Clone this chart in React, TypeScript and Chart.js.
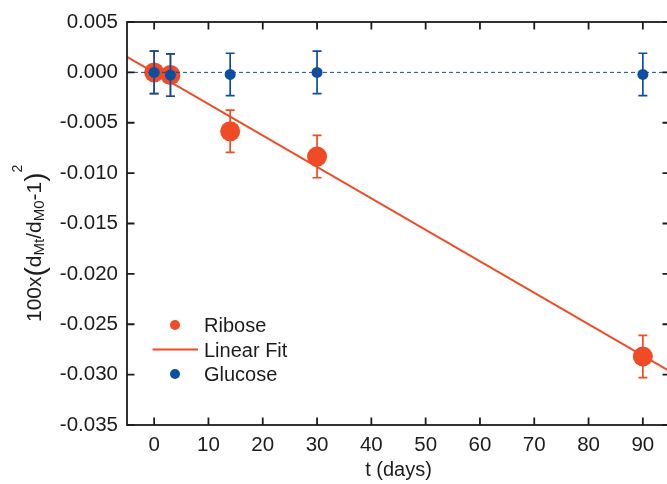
import React, { useEffect, useRef } from "react";
import { Chart, registerables } from "chart.js";

Chart.register(...registerables);

// ---------------- data ----------------
const days = [0, 3, 14, 30, 90];
const riboseValues = [0.0, -0.00027, -0.00585, -0.00836, -0.0282];
const riboseErrors = [0.0021, 0.0021, 0.0021, 0.0021, 0.0021];
const glucoseValues = [0.0, -0.00027, -0.0002, 0.0, -0.0002];
const glucoseErrors = [0.0021, 0.0021, 0.0021, 0.0021, 0.0021];
const fitDays = [-5, 95];
const fitValues = [0.00153, -0.02967];
const zeroDays = [-5, 95];
const zeroValues = [0, 0];
const xTickValues = [0, 10, 20, 30, 40, 50, 60, 70, 80, 90];
const yTickValues = [0.005, 0.0, -0.005, -0.01, -0.015, -0.02, -0.025, -0.03, -0.035];
const legendLabels = ["Ribose", "Linear Fit", "Glucose"];
const xTitle = "t (days)";

// ---------------- styles ----------------
const RIBOSE = "#ef4b24";
const GLUCOSE = "#0b4ea2";
const INK = "#1c1c1c";
const FONT = "'Liberation Sans', Arial, Helvetica, sans-serif";

const toPoints = (xs: number[], ys: number[]) => xs.map((x, i) => ({ x, y: ys[i] }));

const errorBarPlugin = {
  id: "errorBars",
  beforeDatasetDraw(chart: any, args: any) {
    const ds = chart.data.datasets[args.index];
    if (!ds.errorBars) return;
    const { ctx, scales } = chart;
    const xs = scales.x;
    const ys = scales.y;
    ctx.save();
    ctx.strokeStyle = ds.errorColor;
    ctx.lineWidth = 1.7;
    ds.data.forEach((p: any, i: number) => {
      const e = ds.errorBars[i];
      const px = xs.getPixelForValue(p.x);
      const top = ys.getPixelForValue(p.y + e);
      const bot = ys.getPixelForValue(p.y - e);
      ctx.beginPath();
      ctx.moveTo(px, top);
      ctx.lineTo(px, bot);
      ctx.moveTo(px - 4.5, top);
      ctx.lineTo(px + 4.5, top);
      ctx.moveTo(px - 4.5, bot);
      ctx.lineTo(px + 4.5, bot);
      ctx.stroke();
    });
    ctx.restore();
  },
};

const framePlugin = {
  id: "frameTicks",
  afterDraw(chart: any) {
    const { ctx, chartArea: a, scales } = chart;
    const tl = 7.5;
    ctx.save();
    ctx.strokeStyle = INK;
    ctx.lineWidth = 1.8;
    ctx.strokeRect(a.left, a.top, a.right - a.left, a.bottom - a.top);
    ctx.beginPath();
    xTickValues.forEach((v) => {
      const px = scales.x.getPixelForValue(v);
      ctx.moveTo(px, a.bottom);
      ctx.lineTo(px, a.bottom - tl);
      ctx.moveTo(px, a.top);
      ctx.lineTo(px, a.top + tl);
    });
    yTickValues.forEach((v) => {
      const py = scales.y.getPixelForValue(v);
      ctx.moveTo(a.left, py);
      ctx.lineTo(a.left + tl, py);
      ctx.moveTo(a.right, py);
      ctx.lineTo(a.right - tl, py);
    });
    ctx.stroke();

    // legend
    const lx = a.left + 48;
    const ly = a.top + 303;
    const gap = 24.5;
    ctx.fillStyle = RIBOSE;
    ctx.beginPath();
    ctx.arc(lx, ly, 5, 0, Math.PI * 2);
    ctx.fill();
    ctx.strokeStyle = RIBOSE;
    ctx.lineWidth = 2;
    ctx.beginPath();
    ctx.moveTo(lx - 22.5, ly + gap);
    ctx.lineTo(lx + 23, ly + gap);
    ctx.stroke();
    ctx.fillStyle = GLUCOSE;
    ctx.beginPath();
    ctx.arc(lx, ly + 2 * gap, 5, 0, Math.PI * 2);
    ctx.fill();
    ctx.fillStyle = INK;
    ctx.font = `20px ${FONT}`;
    ctx.textBaseline = "alphabetic";
    ctx.textAlign = "left";
    legendLabels.forEach((t, i) => {
      ctx.fillText(t, lx + 29, ly + i * gap + 7.2);
    });

    // y-axis title with sub/superscripts
    ctx.translate(41, 322);
    ctx.rotate(-Math.PI / 2);
    const parts: [string, number, number][] = [
      ["100x", 21, 0],
      ["(", 28, 2.5],
      ["d", 21, 0],
      ["Mt", 15, 3],
      ["/", 21, 0],
      ["d", 21, 0],
      ["M0", 15, 3],
      ["-1", 21, 0],
      [")", 28, 2.5],
      ["2", 14, -19],
    ];
    let x = 0;
    ctx.fillStyle = INK;
    ctx.textAlign = "left";
    ctx.textBaseline = "alphabetic";
    parts.forEach(([s, size, dy]) => {
      ctx.font = `${size}px ${FONT}`;
      ctx.fillText(s, x, dy);
      x += ctx.measureText(s).width;
    });
    ctx.restore();
  },
};

export default function App() {
  const ref = useRef<HTMLCanvasElement | null>(null);

  useEffect(() => {
    if (!ref.current) return;
    Chart.defaults.font.family = FONT;
    const chart = new Chart(ref.current, {
      type: "scatter",
      data: {
        datasets: [
          {
            label: "Glucose",
            data: toPoints(days, glucoseValues),
            backgroundColor: GLUCOSE,
            borderWidth: 0,
            pointRadius: 5.5,
            order: 0,
            errorBars: glucoseErrors,
            errorColor: GLUCOSE,
          } as any,
          {
            label: "zero",
            data: toPoints(zeroDays, zeroValues),
            showLine: true,
            borderColor: GLUCOSE,
            borderWidth: 1,
            borderDash: [4, 3],
            pointRadius: 0,
            order: 1,
          } as any,
          {
            label: "Ribose",
            data: toPoints(days, riboseValues),
            backgroundColor: RIBOSE,
            borderWidth: 0,
            pointRadius: 10,
            order: 2,
            errorBars: riboseErrors,
            errorColor: RIBOSE,
          } as any,
          {
            label: "Linear Fit",
            data: toPoints(fitDays, fitValues),
            showLine: true,
            borderColor: RIBOSE,
            borderWidth: 2,
            pointRadius: 0,
            order: 3,
          } as any,
        ],
      },
      options: {
        animation: false,
        responsive: false,
        maintainAspectRatio: false,
        devicePixelRatio: 1,
        layout: { padding: { top: 22, right: 6, left: 0, bottom: 0 } },
        plugins: {
          legend: { display: false },
          tooltip: { enabled: false },
        },
        scales: {
          x: {
            type: "linear",
            min: -5,
            max: 95,
            grid: { display: false, drawTicks: false },
            border: { display: false },
            afterBuildTicks: (s: any) => {
              s.ticks = xTickValues.map((v) => ({ value: v }));
            },
            afterFit: (s: any) => {
              s.height = 59;
            },
            ticks: {
              color: INK,
              font: { size: 20.5 },
              padding: 8,
              maxRotation: 0,
              callback: (v: any) => String(v),
            },
            title: {
              display: true,
              text: xTitle,
              color: INK,
              font: { size: 20 },
              padding: { top: 0, bottom: 2 },
            },
          },
          y: {
            type: "linear",
            min: -0.035,
            max: 0.005,
            grid: { display: false, drawTicks: false },
            border: { display: false },
            afterBuildTicks: (s: any) => {
              s.ticks = yTickValues.map((v) => ({ value: v }));
            },
            afterFit: (s: any) => {
              s.width = 127;
            },
            ticks: {
              color: INK,
              font: { size: 20.5 },
              padding: 9,
              callback: (v: any) => Number(v).toFixed(3),
            },
          },
        },
      } as any,
      plugins: [errorBarPlugin, framePlugin],
    });
    return () => chart.destroy();
  }, []);

  return (
    <div
      style={{
        position: "fixed",
        left: 0,
        top: 0,
        width: 667,
        height: 484,
        overflow: "hidden",
        background: "#fff",
      }}
    >
      <canvas ref={ref} width={680} height={484} style={{ display: "block", width: 680, height: 484 }} />
    </div>
  );
}
